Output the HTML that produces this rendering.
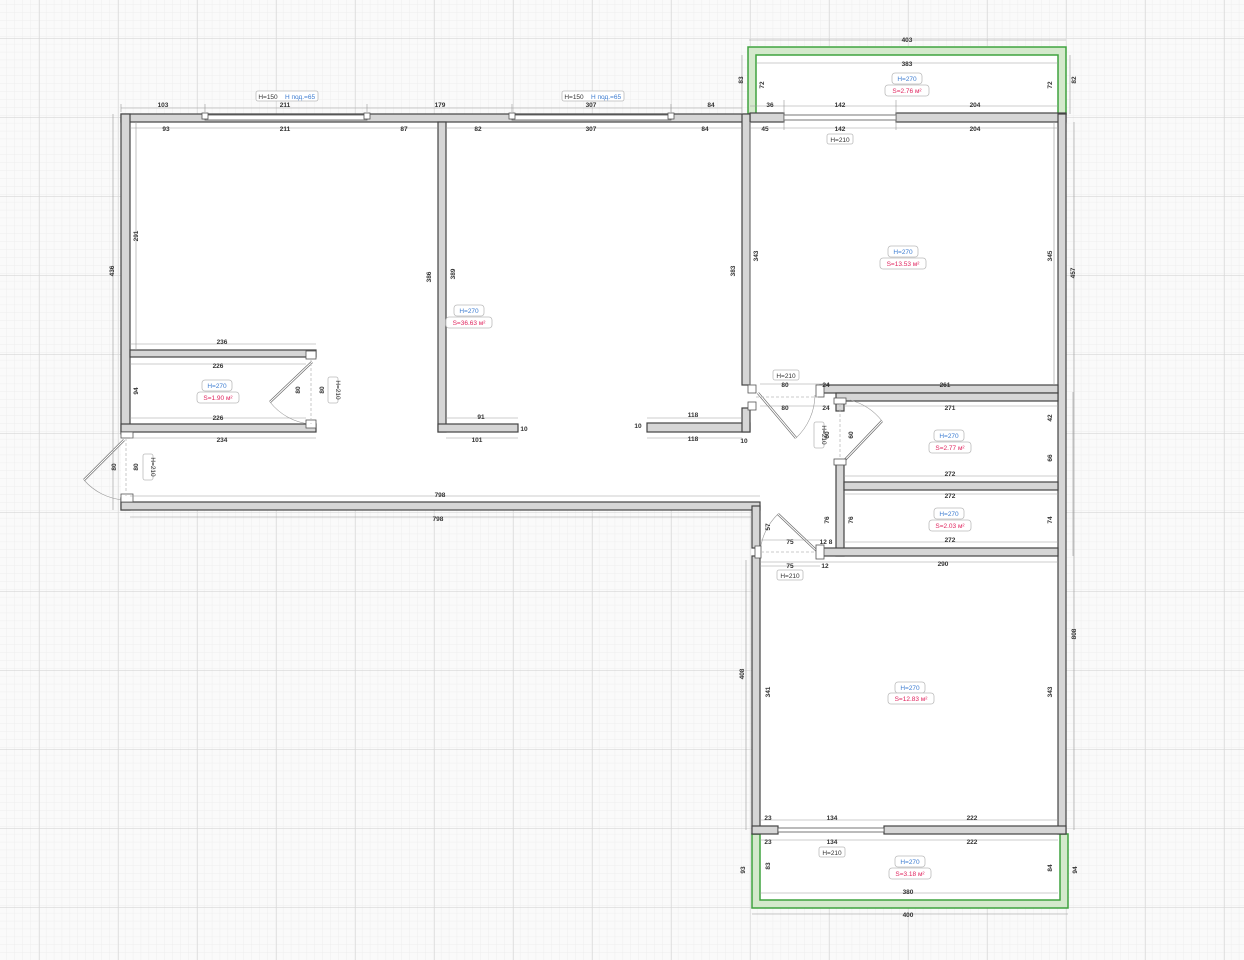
<!DOCTYPE html>
<html><head><meta charset="utf-8"><style>
html,body{margin:0;padding:0;background:#fafafa;}
svg{display:block;font-family:"Liberation Sans",sans-serif;}
.w{fill:#d6d6d6;stroke:#444;stroke-width:1.2;}
.g{fill:#d4e9cc;stroke:#3fa33f;stroke-width:1.5;}
.t{font-size:6.5px;font-weight:bold;fill:#333;text-anchor:middle;}
.d{stroke:#999;stroke-width:0.6;fill:none;}
.lb{fill:#fff;stroke:#bbb;stroke-width:0.8;}
.hb{font-size:6.5px;fill:#3b7bd0;text-anchor:middle;}
.sb{font-size:6.5px;fill:#e0245e;text-anchor:middle;}
.dr{stroke:#666;stroke-width:2.5;fill:none;}
.dr2{stroke:#fff;stroke-width:1.2;fill:none;}
.arc{stroke:#999;stroke-width:0.6;fill:none;}
.win{fill:#fff;stroke:#555;stroke-width:0.8;}
</style></head><body>
<svg width="1244" height="960" viewBox="0 0 1244 960">
<defs>
<pattern id="minor" x="39" y="38" width="7.9" height="7.9" patternUnits="userSpaceOnUse">
<path d="M7.9 0V7.9H0" fill="none" stroke="#ececec" stroke-width="0.8"/></pattern>
<pattern id="major" x="39" y="38" width="79" height="79" patternUnits="userSpaceOnUse">
<rect width="79" height="79" fill="url(#minor)"/>
<path d="M0 0H79M0 0V79" fill="none" stroke="#d6d6d6" stroke-width="1.2"/></pattern>
</defs>
<rect width="1244" height="960" fill="#fafafa"/>
<rect width="1244" height="960" fill="url(#major)"/>

<!-- white interiors -->
<polygon points="121,114 750,114 750,46 1066,46 1066,908 752,908 752,510 121,510" fill="#fff"/>

<!-- balconies -->
<path class="g" d="M748,47H1066V114H1058V55H756V114H748Z"/>
<path class="g" d="M752,834H760V900H1060V834H1068V908H752Z"/>

<!-- walls -->
<rect class="w" x="121" y="114" width="629" height="8"/>
<rect class="w" x="750" y="113" width="34" height="9"/>
<rect class="w" x="896" y="113" width="170" height="9"/>
<rect class="w" x="121" y="114" width="9" height="320"/>
<rect class="w" x="121" y="498" width="9" height="12"/>
<rect class="w" x="121" y="502" width="639" height="8"/>
<rect class="w" x="438" y="122" width="8" height="310"/>
<rect class="w" x="438" y="424" width="80" height="8"/>
<rect class="w" x="647" y="423" width="103" height="9"/>
<rect class="w" x="742" y="114" width="8" height="271"/>
<rect class="w" x="742" y="408" width="8" height="24"/>
<rect class="w" x="130" y="350" width="186" height="7"/>
<rect class="w" x="121" y="424" width="195" height="8"/>
<rect class="w" x="1058" y="114" width="8" height="720"/>
<rect class="w" x="820" y="385" width="238" height="8"/>
<rect class="w" x="836" y="393" width="222" height="8"/>
<rect class="w" x="836" y="401" width="8" height="10"/>
<rect class="w" x="836" y="462" width="8" height="94"/>
<rect class="w" x="844" y="482" width="214" height="8"/>
<rect class="w" x="820" y="548" width="238" height="8"/>
<rect class="w" x="752" y="506" width="8" height="42"/>
<rect class="w" x="752" y="556" width="8" height="278"/>
<rect class="w" x="752" y="826" width="26" height="8"/>
<rect class="w" x="884" y="826" width="182" height="8"/>

<!-- windows -->
<rect class="win" x="205" y="115" width="162" height="5"/>
<rect class="win" x="512" y="115" width="159" height="5"/>
<rect class="win" x="784" y="115" width="112" height="5"/>
<rect class="win" x="778" y="828" width="106" height="4"/>
<rect class="win" x="202" y="113" width="6" height="6"/>
<rect class="win" x="364" y="113" width="6" height="6"/>
<rect class="win" x="509" y="113" width="6" height="6"/>
<rect class="win" x="668" y="113" width="6" height="6"/>

<!-- doors -->
<line class="dr" x1="312" y1="362" x2="270" y2="402"/><line class="dr2" x1="312" y1="362" x2="270" y2="402"/>
<path class="arc" d="M270,402 A58,58 0 0 0 310,424"/>
<line class="dr" x1="124" y1="440" x2="84" y2="480"/><line class="dr2" x1="124" y1="440" x2="84" y2="480"/>
<path class="arc" d="M84,480 A58,58 0 0 0 124,500"/>
<line class="dr" x1="758" y1="393" x2="796" y2="438"/><line class="dr2" x1="758" y1="393" x2="796" y2="438"/>
<path class="arc" d="M796,438 A60,60 0 0 0 815,395"/>
<line class="dr" x1="842" y1="463" x2="882" y2="421"/><line class="dr2" x1="842" y1="463" x2="882" y2="421"/>
<path class="arc" d="M882,421 A60,60 0 0 0 850,400"/>
<line class="dr" x1="818" y1="552" x2="778" y2="514"/><line class="dr2" x1="818" y1="552" x2="778" y2="514"/>
<path class="arc" d="M778,514 A60,60 0 0 0 760,552"/>
<g fill="#fff" stroke="#555" stroke-width="0.8">
<rect x="306" y="351" width="10" height="8"/><rect x="306" y="420" width="10" height="8"/>
<rect x="121" y="432" width="12" height="6"/><rect x="121" y="494" width="12" height="8"/>
<rect x="748" y="385" width="8" height="8"/><rect x="748" y="402" width="8" height="8"/>
<rect x="816" y="385" width="8" height="12"/><rect x="834" y="398" width="12" height="6"/>
<rect x="834" y="459" width="12" height="6"/><rect x="755" y="546" width="6" height="12"/>
<rect x="816" y="545" width="8" height="14"/>
</g>
<g stroke="#bbb" stroke-width="0.8" stroke-dasharray="3,2">
<line x1="311" y1="358" x2="311" y2="424"/><line x1="126" y1="438" x2="126" y2="496"/>
<line x1="756" y1="397" x2="818" y2="397"/><line x1="840" y1="404" x2="840" y2="460"/>
<line x1="761" y1="552" x2="816" y2="552"/>
</g>

<!-- dimension lines -->
<g class="d">
<path d="M121,108H742M121,104V112M205,104V112M367,104V112M512,104V112M671,104V112"/>
<path d="M130,128H437M446,128H742"/>
<path d="M113,114V510M136,122V350M746,30"/>
<path d="M749,40H1066M757,63H1058M742,55V114M1070,55V114"/>
<path d="M750,106H1058M784,100V130M896,100V130M750,128H1058"/>
<path d="M130,344H316M130,364H306M130,418H306M130,438H316"/>
<path d="M130,496H760M130,517H752"/>
<path d="M446,418H518M446,438H518M647,418H742M647,438H742"/>
<path d="M760,384H830M760,406H830M844,406H1058M844,476H1058M844,494H1058M844,542H1058"/>
<path d="M760,540H820M760,566H820M760,562H1058M760,820H1058M760,840H1058M760,893H1058M752,914H1068"/>
<path d="M746,560V830M1074,122V830M1073,392V556M750,122V385M1054,122V385"/>
</g>

<!-- dimension text -->
<g class="t">
<text x="163" y="107">103</text><text x="285" y="107">211</text><text x="440" y="107">179</text><text x="591" y="107">307</text><text x="711" y="107">84</text>
<text x="166" y="131">93</text><text x="285" y="131">211</text><text x="404" y="131">87</text><text x="478" y="131">82</text><text x="591" y="131">307</text><text x="705" y="131">84</text>
<text x="907" y="42">403</text><text x="907" y="66">383</text>
<text x="770" y="107">36</text><text x="840" y="107">142</text><text x="975" y="107">204</text>
<text x="765" y="131">45</text><text x="840" y="131">142</text><text x="975" y="131">204</text>
<text x="222" y="344">236</text><text x="218" y="368">226</text><text x="218" y="420">226</text><text x="222" y="442">234</text>
<text x="440" y="497">798</text><text x="438" y="521">798</text>
<text x="481" y="419">91</text><text x="477" y="442">101</text><text x="693" y="417">118</text><text x="693" y="441">118</text>
<text x="785" y="387">80</text><text x="785" y="410">80</text><text x="826" y="387">24</text><text x="826" y="410">24</text>
<text x="945" y="387">261</text><text x="950" y="410">271</text><text x="950" y="476">272</text><text x="950" y="498">272</text><text x="950" y="542">272</text>
<text x="790" y="544">75</text><text x="790" y="568">75</text><text x="826" y="544">12 8</text><text x="825" y="568">12</text>
<text x="943" y="566">290</text>
<text x="768" y="820">23</text><text x="832" y="820">134</text><text x="972" y="820">222</text>
<text x="768" y="844">23</text><text x="832" y="844">134</text><text x="972" y="844">222</text>
<text x="908" y="894">380</text><text x="908" y="917">400</text>
<text x="744" y="443">10</text><text x="524" y="431">10</text><text x="638" y="428">10</text>
</g>
<g class="t">
<text transform="translate(114,271) rotate(-90)">436</text>
<text transform="translate(138,236) rotate(-90)">291</text>
<text transform="translate(431,277) rotate(-90)">386</text>
<text transform="translate(455,274) rotate(-90)">389</text>
<text transform="translate(735,271) rotate(-90)">383</text>
<text transform="translate(758,256) rotate(-90)">343</text>
<text transform="translate(1052,256) rotate(-90)">345</text>
<text transform="translate(1075,273) rotate(-90)">457</text>
<text transform="translate(743,80) rotate(-90)">83</text>
<text transform="translate(764,85) rotate(-90)">72</text>
<text transform="translate(1052,85) rotate(-90)">72</text>
<text transform="translate(1076,80) rotate(-90)">82</text>
<text transform="translate(1076,634) rotate(-90)">808</text>
<text transform="translate(744,674) rotate(-90)">408</text>
<text transform="translate(770,692) rotate(-90)">341</text>
<text transform="translate(1052,692) rotate(-90)">343</text>
<text transform="translate(745,870) rotate(-90)">93</text>
<text transform="translate(770,866) rotate(-90)">83</text>
<text transform="translate(1052,868) rotate(-90)">84</text>
<text transform="translate(1077,870) rotate(-90)">94</text>
<text transform="translate(138,391) rotate(-90)">94</text>
<text transform="translate(300,390) rotate(-90)">80</text>
<text transform="translate(324,390) rotate(-90)">80</text>
<text transform="translate(116,467) rotate(-90)">80</text>
<text transform="translate(138,467) rotate(-90)">80</text>
<text transform="translate(829,435) rotate(-90)">60</text>
<text transform="translate(853,435) rotate(-90)">60</text>
<text transform="translate(829,520) rotate(-90)">76</text>
<text transform="translate(853,520) rotate(-90)">76</text>
<text transform="translate(1052,520) rotate(-90)">74</text>
<text transform="translate(1052,418) rotate(-90)">42</text>
<text transform="translate(1052,458) rotate(-90)">66</text>
<text transform="translate(770,527) rotate(-90)">57</text>
</g>

<!-- labels -->
<g>
<rect class="lb" x="256" y="91" width="62" height="10" rx="2"/>
<text x="268" y="99" class="t" style="font-weight:normal">H=150</text><text x="300" y="99" class="hb">H под.=65</text>
<rect class="lb" x="562" y="91" width="62" height="10" rx="2"/>
<text x="574" y="99" class="t" style="font-weight:normal">H=150</text><text x="606" y="99" class="hb">H под.=65</text>
<rect class="lb" x="827" y="134" width="26" height="10" rx="2"/><text x="840" y="142" class="t" style="font-weight:normal">H=210</text>
<rect class="lb" x="773" y="370" width="26" height="10" rx="2"/><text x="786" y="378" class="t" style="font-weight:normal">H=210</text>
<rect class="lb" x="777" y="570" width="26" height="10" rx="2"/><text x="790" y="578" class="t" style="font-weight:normal">H=210</text>
<rect class="lb" x="819" y="847" width="26" height="10" rx="2"/><text x="832" y="855" class="t" style="font-weight:normal">H=210</text>
<rect class="lb" x="328" y="377" width="10" height="26" rx="2"/><text transform="translate(336,390) rotate(90)" class="t" style="font-weight:normal">H=210</text>
<rect class="lb" x="143" y="454" width="10" height="26" rx="2"/><text transform="translate(151,467) rotate(90)" class="t" style="font-weight:normal">H=210</text>
<rect class="lb" x="814" y="422" width="10" height="26" rx="2"/><text transform="translate(822,435) rotate(90)" class="t" style="font-weight:normal">H=210</text>
</g>
<g>
<rect class="lb" x="892" y="73" width="30" height="11" rx="3"/><text x="907" y="81" class="hb">H=270</text>
<rect class="lb" x="885" y="85" width="44" height="11" rx="3"/><text x="907" y="93" class="sb">S=2.76 м²</text>
<rect class="lb" x="888" y="246" width="30" height="11" rx="3"/><text x="903" y="254" class="hb">H=270</text>
<rect class="lb" x="880" y="258" width="46" height="11" rx="3"/><text x="903" y="266" class="sb">S=13.53 м²</text>
<rect class="lb" x="454" y="305" width="30" height="11" rx="3"/><text x="469" y="313" class="hb">H=270</text>
<rect class="lb" x="446" y="317" width="46" height="11" rx="3"/><text x="469" y="325" class="sb">S=36.63 м²</text>
<rect class="lb" x="202" y="380" width="30" height="11" rx="3"/><text x="217" y="388" class="hb">H=270</text>
<rect class="lb" x="197" y="392" width="42" height="11" rx="3"/><text x="218" y="400" class="sb">S=1.90 м²</text>
<rect class="lb" x="934" y="430" width="30" height="11" rx="3"/><text x="949" y="438" class="hb">H=270</text>
<rect class="lb" x="929" y="442" width="42" height="11" rx="3"/><text x="950" y="450" class="sb">S=2.77 м²</text>
<rect class="lb" x="934" y="508" width="30" height="11" rx="3"/><text x="949" y="516" class="hb">H=270</text>
<rect class="lb" x="929" y="520" width="42" height="11" rx="3"/><text x="950" y="528" class="sb">S=2.03 м²</text>
<rect class="lb" x="895" y="682" width="30" height="11" rx="3"/><text x="910" y="690" class="hb">H=270</text>
<rect class="lb" x="888" y="693" width="46" height="11" rx="3"/><text x="911" y="701" class="sb">S=12.83 м²</text>
<rect class="lb" x="895" y="856" width="30" height="11" rx="3"/><text x="910" y="864" class="hb">H=270</text>
<rect class="lb" x="889" y="868" width="42" height="11" rx="3"/><text x="910" y="876" class="sb">S=3.18 м²</text>
</g>
</svg>
</body></html>
